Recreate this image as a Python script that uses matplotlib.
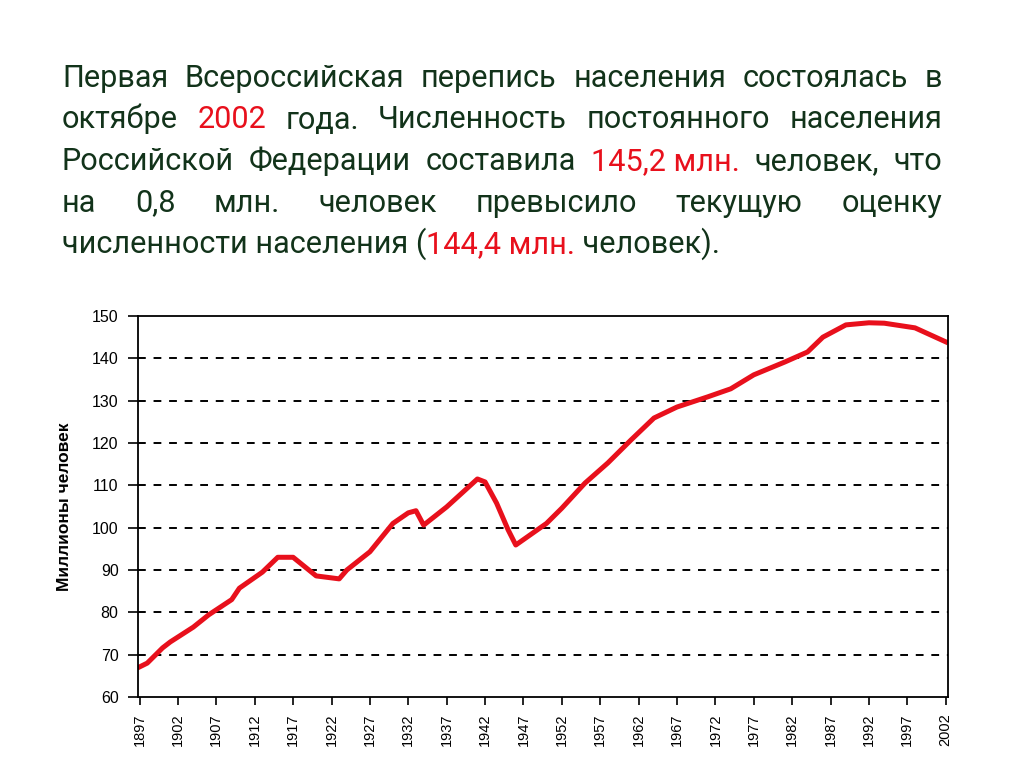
import matplotlib.pyplot as plt
from matplotlib.font_manager import FontProperties

# population of Russia, millions
years = [1897, 1898, 1900, 1901, 1904, 1906, 1909, 1910, 1913, 1915, 1917, 1920,
         1923, 1924, 1927, 1930, 1932, 1933, 1934, 1937, 1939, 1941, 1942, 1943.5,
         1945, 1946, 1950, 1952, 1955, 1958, 1961, 1964, 1967, 1971, 1974, 1977,
         1981, 1984, 1986, 1989, 1992, 1994, 1998, 2002]
population = [67.1, 68.0, 71.6, 73.0, 76.5, 79.4, 83.0, 85.7, 89.5, 93.0, 93.0, 88.6,
              87.9, 90.0, 94.3, 101.0, 103.5, 104.0, 100.6, 104.9, 108.2, 111.5, 110.8, 105.8,
              99.5, 95.9, 101.0, 104.6, 110.5, 115.3, 120.7, 125.9, 128.5, 130.9, 132.8, 136.1,
              139.1, 141.5, 145.0, 147.9, 148.4, 148.3, 147.2, 143.9]
x_ticks = list(range(1897, 2003, 5))
y_ticks = list(range(60, 151, 10))

green = '#12331a'
red = '#e8101c'

heading = [
    [('Первая', green), ('Всероссийская', green), ('перепись', green), ('населения', green),
     ('состоялась', green), ('в', green)],
    [('октябре', green), ('2002', red), ('года.', green), ('Численность', green),
     ('постоянного', green), ('населения', green)],
    [('Российской', green), ('Федерации', green), ('составила', green), ('145,2 млн.', red),
     ('человек,', green), ('что', green)],
    [('на', green), ('0,8', green), ('млн.', green), ('человек', green), ('превысило', green),
     ('текущую', green), ('оценку', green)],
    [('численности населения (', green), ('144,4 млн.', red), (' человек).', green)],
]

fig = plt.figure(figsize=(10.24, 7.67), dpi=100)
ax = fig.add_axes([0.1348, 0.0913, 0.7910, 0.4967])

ax.plot(years, population, color=red, linewidth=3.6, solid_joinstyle='round')
ax.set_xlim(1896.8, 2002.3)
ax.set_ylim(60, 150)
ax.set_xticks(x_ticks)
ax.set_yticks(y_ticks)
ax.tick_params(axis='x', labelrotation=90, labelsize=10.5, length=6, width=1.2,
               direction='out', pad=6)
ax.tick_params(axis='y', labelsize=11.5, length=7, width=1.2, direction='out', pad=7)
for lab in ax.get_xticklabels() + ax.get_yticklabels():
    lab.set_family('Liberation Sans')
for y in y_ticks[1:-1]:
    ax.axhline(y, color='black', linestyle=(0, (4, 4)), linewidth=1.4, zorder=0)
for s in ax.spines.values():
    s.set_linewidth(1.3)
ax.set_ylabel('Миллионы человек', family='Liberation Sans', fontweight='bold',
              fontsize=12.5, labelpad=14)

# justified heading text, font size fitted so the last line ends where it does in the picture
fig.canvas.draw()
r = fig.canvas.get_renderer()
fam = ['Roboto', 'Open Sans']
probe = FontProperties(family=fam, size=20)
last_w = sum(r.get_text_width_height_descent(t, probe, ismath=False)[0] for t, c in heading[-1])
fp = FontProperties(family=fam, size=20 * 656 / last_w)

left_px, right_px = 62, 942
top_px, step_px = 87, 41.5
W, H = fig.bbox.width, fig.bbox.height
for i, line in enumerate(heading):
    ypx = top_px + i * step_px
    widths = [r.get_text_width_height_descent(t, fp, ismath=False)[0] for t, c in line]
    if i == len(heading) - 1:
        gap = 0
    else:
        gap = (right_px - left_px - sum(widths)) / (len(line) - 1)
    x = left_px
    for (txt, col), w in zip(line, widths):
        fig.text(x / W, 1 - ypx / H, txt, color=col, fontproperties=fp, va='baseline')
        x += w + gap

fig.savefig('out.png', dpi=100)
